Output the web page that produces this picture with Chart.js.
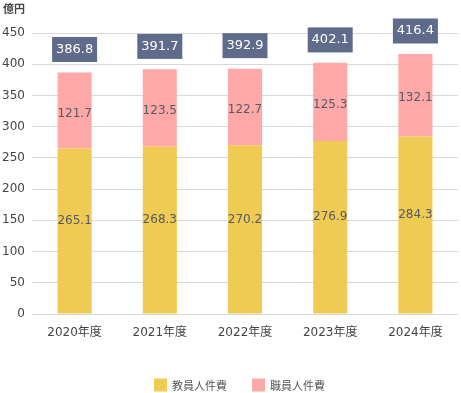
<!DOCTYPE html>
<html><head><meta charset="utf-8">
<script src="https://cdn.jsdelivr.net/npm/chart.js@4/dist/chart.umd.min.js"></script>
<style>html,body{margin:0;padding:0;background:#fff}#wrap{width:461px;height:393px}</style>
</head><body><div id="wrap"><canvas id="c" width="461" height="393"></canvas></div>
<script>
const categories = ['2020年度','2021年度','2022年度','2023年度','2024年度'];
const faculty = [265.1, 268.3, 270.2, 276.9, 284.3];
const staff = [121.7, 123.5, 122.7, 125.3, 132.1];
const totals = [386.8, 391.7, 392.9, 402.1, 416.4];
const seriesNames = ['教員人件費','職員人件費'];
const seriesColors = ['#efcb53', '#ffa8a8'];
const unitLabel = '億円';

const FONT = '"DejaVu Sans", "Noto Sans CJK JP", sans-serif';

const labelPlugin = {
  id: 'labels',
  afterDatasetsDraw(chart) {
    const ctx = chart.ctx;
    const y = chart.scales.y;
    ctx.save();
    ctx.textAlign = 'center';
    ctx.textBaseline = 'middle';
    chart.data.datasets.forEach((ds, di) => {
      const meta = chart.getDatasetMeta(di);
      meta.data.forEach((bar, i) => {
        const cy = (bar.y + bar.base) / 2 + (di === 0 ? -10 : 3);
        ctx.fillStyle = '#555962';
        ctx.font = '12px ' + FONT;
        ctx.fillText(ds.data[i].toFixed(1), bar.x, cy);
      });
    });
    const meta0 = chart.getDatasetMeta(0);
    totals.forEach((t, i) => {
      const x = meta0.data[i].x;
      const cy = y.getPixelForValue(t) - 23;
      ctx.fillStyle = '#5f6b8b';
      ctx.fillRect(x - 22.5, cy - 12.5, 45, 25);
      ctx.fillStyle = '#ffffff';
      ctx.font = '13px ' + FONT;
      ctx.fillText(t.toFixed(1), x, cy);
    });
    // unit label
    ctx.fillStyle = '#444';
    ctx.font = 'bold 11px "Noto Sans CJK JP", sans-serif';
    ctx.textAlign = 'left';
    ctx.fillText(unitLabel, 3, 9);
    // legend
    const legendX = [154, 252];
    ctx.font = '11px "Noto Sans CJK JP", sans-serif';
    seriesNames.forEach((n, k) => {
      ctx.fillStyle = seriesColors[k];
      ctx.fillRect(legendX[k], 378.5, 13, 13);
      ctx.fillStyle = '#555';
      ctx.fillText(n, legendX[k] + 18, 385.5);
    });
    ctx.restore();
  }
};

new Chart(document.getElementById('c'), {
  type: 'bar',
  data: {
    labels: categories,
    datasets: [
      { label: seriesNames[0], data: faculty, backgroundColor: seriesColors[0], barPercentage: 0.4, categoryPercentage: 1 },
      { label: seriesNames[1], data: staff, backgroundColor: seriesColors[1], barPercentage: 0.4, categoryPercentage: 1 }
    ]
  },
  plugins: [labelPlugin],
  options: {
    responsive: false,
    animation: false,
    layout: { padding: { top: 33, right: 3, left: 0, bottom: 19 } },
    plugins: {
      tooltip: { enabled: false },
      legend: { display: false }
    },
    scales: {
      x: {
        stacked: true,
        grid: { display: false, drawTicks: false },
        border: { display: false },
        ticks: { color: '#444', font: { size: 12, family: FONT }, padding: 12 },
        afterFit(s) { s.height = 60; }
      },
      y: {
        stacked: true,
        min: 0, max: 450,
        grid: { color: '#d8d8d8', drawTicks: false },
        border: { display: false },
        ticks: { stepSize: 50, color: '#444', font: { size: 12, family: FONT }, padding: 7 },
        afterFit(s) { s.width = 32; }
      }
    }
  }
});
</script></body></html>
